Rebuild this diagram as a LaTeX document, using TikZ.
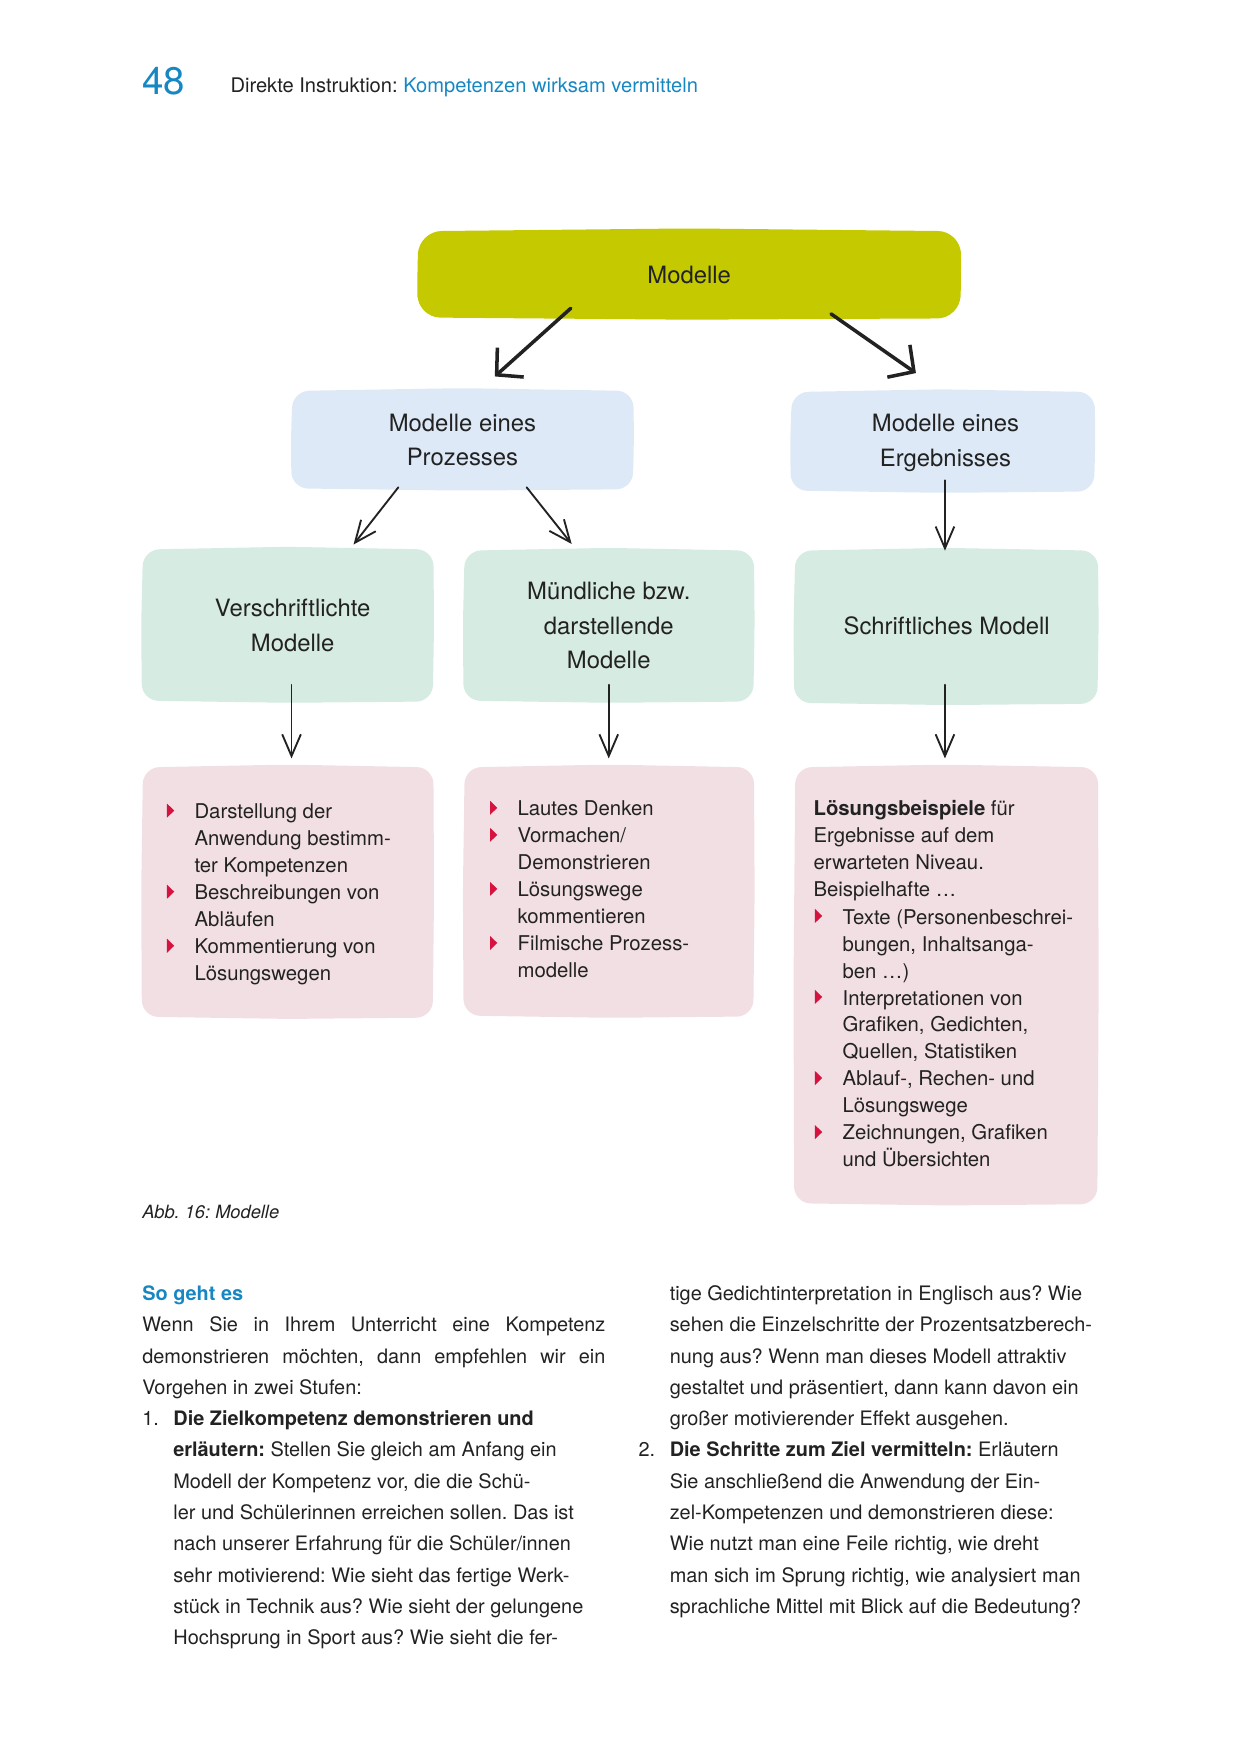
\documentclass[tikz,border=0pt]{standalone}
\usepackage{fontspec}
\setmainfont{TeX Gyre Heros}
\usetikzlibrary{arrows.meta}
\definecolor{hblue}{RGB}{22,135,195}
\definecolor{olivebox}{RGB}{196,201,0}
\definecolor{lblue}{RGB}{221,233,246}
\definecolor{lgreen}{RGB}{214,235,226}
\definecolor{lpink}{RGB}{242,223,228}
\definecolor{bulred}{RGB}{214,18,62}
\definecolor{ink}{RGB}{34,34,34}
\definecolor{arrc}{RGB}{34,34,34}
\newcommand\blob[6]{%
 \fill[#1,rounded corners=#6] ({#2+1},{#3+1}) -- ({(#2+#4)/2},{#3-1.5}) -- ({#4},{#3+1}) -- ({#4+0.6},{(#3+#5)/2}) -- ({#4-0.6},{#5}) -- ({(#2+#4)/2},{#5+1.2}) -- ({#2},{#5-0.8}) -- ({#2-0.6},{(#3+#5)/2}) -- cycle;}
\newcommand\tri[2]{\fill[bulred] (#1,{#2-13.6}) -- ({#1+6.5},{#2-7.3}) -- (#1,{#2-1}) -- cycle;}
\frenchspacing
\begin{document}
\frenchspacing
\begin{tikzpicture}[x=0.018917cm, y=-0.018917cm,
 boxtext/.style={align=center, inner sep=0pt, font=\fontsize{11.5}{16.7}\selectfont, text=ink},
 listtext/.style={anchor=base west, inner sep=0pt, font=\fontsize{9.8}{13}\selectfont, text=ink},
 bodytext/.style={anchor=base west, inner sep=0pt, font=\fontsize{9.6}{15.07}\selectfont, text=ink},
 bigarrow/.style={draw=arrc, line width=1.7pt, line cap=round, -{Straight Barb[length=9pt,width=19pt]}},
 thinarrow/.style={draw=arrc, line width=0.9pt, line cap=round, -{Straight Barb[length=10.5pt,width=9pt]}}]
\useasboundingbox (0,0) rectangle (1110.1,1570.3);
% header
\node[anchor=base west, inner sep=0pt, font=\fontsize{18.5}{20}\selectfont, text=hblue] (pnum) at (127,84.5) {48};
\node[anchor=base west, inner sep=0pt, font=\fontsize{9.7}{12}\selectfont, text=ink] (htitle) at (206,83) {Direkte Instruktion: \textcolor{hblue}{Kompetenzen wirksam vermitteln}};
% boxes
\blob{olivebox}{374}{206}{860}{285}{11pt}
\blob{lblue}{261}{349}{567}{438}{8pt}
\blob{lblue}{708}{350}{980}{440}{8pt}
\blob{lgreen}{127}{491}{388}{628}{8pt}
\blob{lgreen}{415}{492}{675}{628}{8pt}
\blob{lgreen}{711}{492}{983}{630}{8pt}
\blob{lpink}{127}{686}{388}{911}{8pt}
\blob{lpink}{415}{686}{675}{910}{8pt}
\blob{lpink}{711}{686}{983}{1078}{8pt}
% box texts
\node[boxtext] (modelle) at (617,246.5) {Modelle};
\node[boxtext] (proz) at (414,394) {Modelle eines\\Prozesses};
\node[boxtext] (erg) at (846.5,396.5) {Modelle eines\\Ergebnisses};
\node[boxtext] (versch) at (262,560) {Verschriftlichte\\Modelle};
\node[boxtext] (muend) at (545,560) {Mündliche bzw.\\darstellende\\Modelle};
\node[boxtext] (schrift) at (847.5,560.5) {Schriftliches Modell};
% arrows
\coordinate (a1s) at (511,276); \coordinate (a1e) at (443,337);
\coordinate (a2s) at (744,281); \coordinate (a2e) at (820,334);
\coordinate (b1s) at (356.6,436.3); \coordinate (b1e) at (316.5,487.5);
\coordinate (b2s) at (471.5,436.3); \coordinate (b2e) at (511.8,487);
\coordinate (b3s) at (846,430); \coordinate (b3e) at (846,493);
\coordinate (c1s) at (261,613); \coordinate (c1e) at (261,679);
\coordinate (c2s) at (545,613); \coordinate (c2e) at (545,679);
\coordinate (c3s) at (846,613); \coordinate (c3e) at (846,679);
\draw[bigarrow] (a1s) -- (a1e);
\draw[bigarrow] (a2s) -- (a2e);
\draw[thinarrow] (b1s) -- (b1e);
\draw[thinarrow] (b2s) -- (b2e);
\draw[thinarrow] (b3s) -- (b3e);
\draw[thinarrow] (c1s) -- (c1e);
\draw[thinarrow] (c2s) -- (c2e);
\draw[thinarrow] (c3s) -- (c3e);
% lists
\node[listtext] (list1) at (173.8,733) {\parbox[t]{200pt}{\raggedright Darstellung der\\Anwendung bestimm-\\ter Kompetenzen\\Beschreibungen von\\Abläufen\\Kommentierung von\\Lösungswegen}};
\tri{149.5}{733} \tri{149.5}{805.6} \tri{149.5}{854}
\node[listtext] (list2) at (463,730.5) {\parbox[t]{200pt}{\raggedright Lautes Denken\\Vormachen/\\Demonstrieren\\Lösungswege\\kommentieren\\Filmische Prozess-\\modelle}};
\tri{438.7}{730.5} \tri{438.7}{754.7} \tri{438.7}{803.1} \tri{438.7}{851.5}
\node[listtext] (list3a) at (728,730.5) {\parbox[t]{200pt}{\raggedright \textbf{Lösungsbeispiele} für\\Ergebnisse auf dem\\erwarteten Niveau.\\Beispielhafte …}};
\node[listtext] (list3b) at (754,827.3) {\parbox[t]{200pt}{\raggedright Texte (Personenbeschrei-\\bungen, Inhaltsanga-\\ben …)\\Interpretationen von\\Grafiken, Gedichten,\\Quellen, Statistiken\\Ablauf-, Rechen- und\\Lösungswege\\Zeichnungen, Grafiken\\und Übersichten}};
\tri{729.6}{827.3} \tri{729.6}{899.8} \tri{729.6}{972.4} \tri{729.6}{1020.8}
% caption
\node[anchor=base west, inner sep=0pt, font=\fontsize{8.8}{11}\selectfont\itshape, text=ink] (cap) at (127,1090.7) {Abb. 16: Modelle};
% body text
\node[bodytext] (colA) at (127,1164.4) {\parbox[t]{330pt}{\raggedright\frenchspacing
\leavevmode\textcolor{hblue}{\bfseries So geht es}\\
\makebox[223.2pt][s]{Wenn Sie in Ihrem Unterricht eine Kompetenz}\\
\makebox[223.2pt][s]{demonstrieren möchten, dann empfehlen wir ein}\\
Vorgehen in zwei Stufen:\\
\makebox[15pt][l]{1.}\textbf{Die Zielkompetenz demonstrieren und}\\
\hspace*{15pt}\textbf{erläutern:} Stellen Sie gleich am Anfang ein\\
\hspace*{15pt}Modell der Kompetenz vor, die die Schü-\\
\hspace*{15pt}ler und Schülerinnen erreichen sollen. Das ist\\
\hspace*{15pt}nach unserer Erfahrung für die Schüler/innen\\
\hspace*{15pt}sehr motivierend: Wie sieht das fertige Werk-\\
\hspace*{15pt}stück in Technik aus? Wie sieht der gelungene\\
\hspace*{15pt}Hochsprung in Sport aus? Wie sieht die fer-}};
\node[bodytext] (colB) at (571.4,1164.4) {\parbox[t]{330pt}{\raggedright\frenchspacing
\hspace*{15pt}tige Gedichtinterpretation in Englisch aus? Wie\\
\hspace*{15pt}sehen die Einzelschritte der Prozentsatzberech-\\
\hspace*{15pt}nung aus? Wenn man dieses Modell attraktiv\\
\hspace*{15pt}gestaltet und präsentiert, dann kann davon ein\\
\hspace*{15pt}großer motivierender Effekt ausgehen.\\
\makebox[15pt][l]{2.}\textbf{Die Schritte zum Ziel vermitteln:} Erläutern\\
\hspace*{15pt}Sie anschließend die Anwendung der Ein-\\
\hspace*{15pt}zel-Kompetenzen und demonstrieren diese:\\
\hspace*{15pt}Wie nutzt man eine Feile richtig, wie dreht\\
\hspace*{15pt}man sich im Sprung richtig, wie analysiert man\\
\hspace*{15pt}sprachliche Mittel mit Blick auf die Bedeutung?}};
\end{tikzpicture}
\end{document}
